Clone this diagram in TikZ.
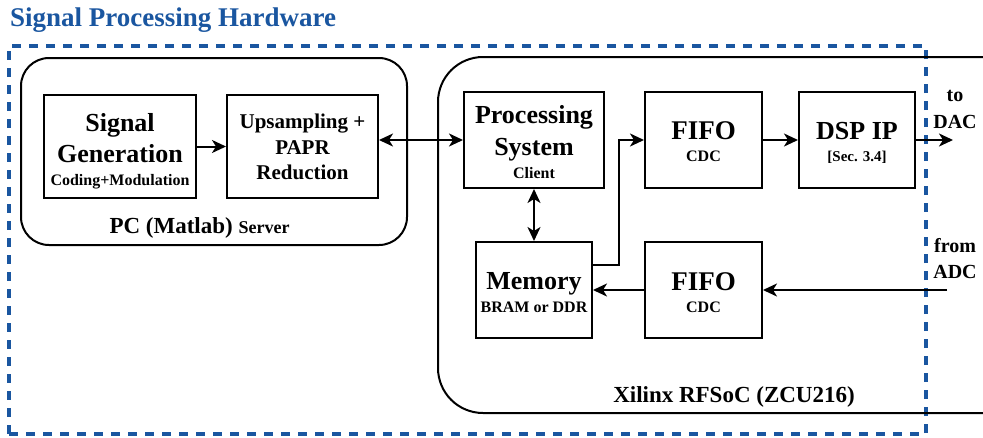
\documentclass[tikz,border=0pt]{standalone}
\usepackage{fontspec}
\setmainfont{Liberation Serif}
\usetikzlibrary{arrows.meta}
\definecolor{hwblue}{RGB}{26,86,160}
\newcommand{\fs}[1]{\fontsize{#1}{#1}\selectfont\bfseries}
\begin{document}
\begin{tikzpicture}[x=1pt,y=-1pt,
  box/.style={draw,line width=2pt,minimum width=#1,inner sep=0pt},
  box/.default=118,
  txt/.style={anchor=base,inner sep=0pt},
  tip/.tip={Stealth[length=14pt,width=13pt,inset=4pt]},
  arr/.style={line width=2pt,-tip},
  darr/.style={line width=2pt,tip-tip},
  hwframe/.style={draw=hwblue,line width=3.5pt,dash pattern=on 9pt off 8pt}]
\useasboundingbox (0,0) rectangle (983,437);
% title
\node[anchor=base west,inner sep=0pt,text=hwblue,font=\fs{27}] (title) at (10,26) {Signal Processing Hardware};
% outer dashed frame
\node[hwframe,minimum width=917,minimum height=388,inner sep=0pt] (hw) at (467.5,240) {};
% PC rounded box
\node[draw,line width=2pt,rounded corners=28pt,minimum width=386,minimum height=187,inner sep=0pt] (pc) at (214,151.5) {};
% Xilinx open box
\draw[line width=2pt,rounded corners=45pt] (983,57) -- (438,57) -- (438,413) -- (983,413);
% boxes
\node[box=152,minimum height=103] (sg) at (120,146.5) {};
\node[box=151,minimum height=103] (up) at (302.5,146.5) {};
\node[box=140,minimum height=96] (ps) at (534,140) {};
\node[box=117,minimum height=96] (fifoa) at (703.5,140) {};
\node[box=116,minimum height=96] (dsp) at (857,140) {};
\node[box=116,minimum height=96] (mem) at (534,290) {};
\node[box=117,minimum height=96] (fifob) at (703.5,290) {};
% texts
\node[txt,font=\fs{26}] at (120,131) {Signal};
\node[txt,font=\fs{26}] at (120,162) {Generation};
\node[txt,font=\fs{16}] at (120,185) {Coding+Modulation};
\node[txt,font=\fs{21}] at (302.5,128.5) {Upsampling +};
\node[txt,font=\fs{21}] at (302.5,154) {PAPR};
\node[txt,font=\fs{21}] at (302.5,179) {Reduction};
\node[txt,font=\fs{23}] at (199.5,233) {PC (Matlab) {\fs{18}Server}};
\node[txt,font=\fs{26}] at (534,123) {Processing};
\node[txt,font=\fs{26}] at (534,155) {System};
\node[txt,font=\fs{16}] at (534,178) {Client};
\node[txt,font=\fs{27}] at (703.5,139.5) {FIFO};
\node[txt,font=\fs{16}] at (703.5,161) {CDC};
\node[txt,font=\fs{26}] at (857,139.5) {DSP IP};
\node[txt,font=\fs{15}] at (857,161) {[Sec. 3.4]};
\node[txt,font=\fs{26}] at (534,289) {Memory};
\node[txt,font=\fs{16}] at (534,312) {BRAM or DDR};
\node[txt,font=\fs{27}] at (703.5,290) {FIFO};
\node[txt,font=\fs{16}] at (703.5,312) {CDC};
\node[txt,font=\fs{23}] at (734,402) {Xilinx RFSoC (ZCU216)};
\node[txt,font=\fs{20}] at (955,101.5) {to};
\node[txt,font=\fs{20}] at (955,128) {DAC};
\node[txt,font=\fs{20}] at (955,252.5) {from};
\node[txt,font=\fs{20}] at (955,278) {ADC};
% connectors
\coordinate (dac) at (953,140);
\coordinate (adc) at (947,290);
\draw[arr] (sg.east) -- (up.west);
\draw[darr] (up.east |- ps.west) -- (ps.west);
\draw[darr] (ps.south) -- (mem.north);
\draw[arr] ([yshift=25pt]mem.east) -- ++(26,0) |- (fifoa.west);
\draw[arr] (fifoa.east) -- (dsp.west);
\draw[arr] (dsp.east) -- (dac);
\draw[arr] (adc) -- (fifob.east);
\draw[arr] (fifob.west) -- (mem.east);
\end{tikzpicture}
\end{document}
